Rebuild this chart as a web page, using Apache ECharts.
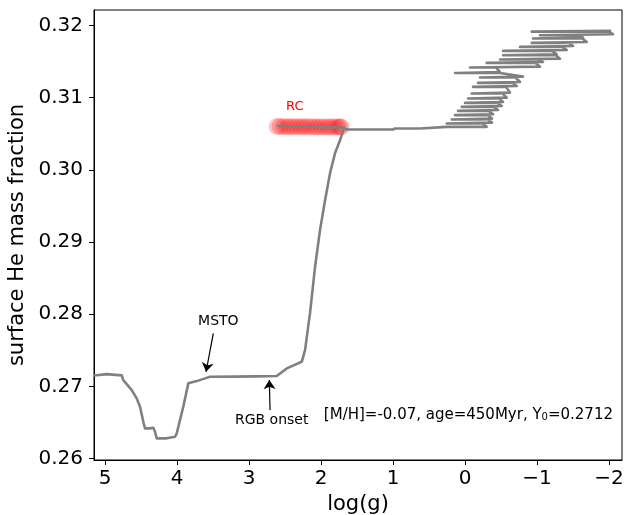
<!DOCTYPE html>
<html>
<head>
<meta charset="utf-8">
<script src="https://cdn.jsdelivr.net/npm/echarts@6/dist/echarts.min.js"></script>
<style>
html,body{margin:0;padding:0;background:#fff;}
#chart{width:624px;height:515px;}
</style>
</head>
<body>
<div id="chart"></div>
<script>
// ---- data ----
var xTicks = [5, 4, 3, 2, 1, 0, -1, -2];
var yTicks = [0.26, 0.27, 0.28, 0.29, 0.30, 0.31, 0.32];

// evolutionary track: log(g) and surface He mass fraction
var trackLogg = [
  5.15, 5.139, 4.976, 4.768, 4.746, 4.629, 4.560, 4.514, 4.468, 4.444, 4.375, 4.329, 4.306, 4.282,
  4.143, 4.028, 4.004, 3.913, 3.843, 3.726, 3.611, 3.542, 3.2, 2.9, 2.615, 2.476, 2.268, 2.222,
  2.153, 2.083, 2.014, 1.944, 1.875, 1.806, 1.736, 1.690, 1.681,
  2.597, 1.694, 1.643, 1.000, 0.972, 0.625, 0.254,
  -0.301,
  -0.24, 0.254, 0.254, -0.375,
  -0.315, 0.185, 0.185, -0.375,
  -0.315, 0.139, 0.139, -0.389,
  -0.33, 0.097, 0.097, -0.458,
  -0.40, 0.046, 0.046, -0.510,
  -0.45, 0.000, 0.000, -0.528,
  -0.47, -0.042, -0.042, -0.579,
  -0.52, -0.093, -0.093, -0.625,
  -0.57, -0.111, -0.111, -0.718,
  -0.66, -0.181, -0.181, -0.764,
  -0.70, -0.208, -0.208, -0.806,
  -0.486, 0.139, 0.139, -0.486,
  -0.43, -0.069, -0.069, -1.042,
  -0.98, -0.301, -0.301, -1.083,
  -1.02, -0.486, -0.486, -1.319,
  -1.26, -0.528, -0.528, -1.274,
  -1.21, -0.528, -0.528, -1.413,
  -1.35, -0.764, -0.764, -1.500,
  -1.44, -0.926, -0.926, -1.690,
  -1.63, -0.944, -0.944, -1.639,
  -1.58, -1.042, -1.042, -2.056,
  -2.00, -0.926, -0.926, -2.014
];
var trackHe = [
  0.27150, 0.27157, 0.27170, 0.27152, 0.27087, 0.26949, 0.26834, 0.26717, 0.26510, 0.26418, 0.26418, 0.26427, 0.26371, 0.26280,
  0.26280, 0.26302, 0.26349, 0.26717, 0.27042, 0.27073, 0.27111, 0.27133, 0.27135, 0.27138, 0.27143, 0.27249, 0.27341, 0.27503,
  0.28015, 0.28657, 0.29165, 0.29580, 0.29954, 0.30231, 0.30411, 0.30550, 0.30587,
  0.30608, 0.30584, 0.30560, 0.30560, 0.30573, 0.30573, 0.30596,
  0.30596,
  0.30643, 0.30643, 0.30655, 0.30655,
  0.30698, 0.30698, 0.30710, 0.30710,
  0.30758, 0.30758, 0.30770, 0.30770,
  0.30817, 0.30817, 0.30829, 0.30829,
  0.30873, 0.30873, 0.30885, 0.30885,
  0.30928, 0.30928, 0.30940, 0.30940,
  0.30989, 0.30989, 0.31001, 0.31001,
  0.31058, 0.31058, 0.31070, 0.31070,
  0.31150, 0.31150, 0.31162, 0.31162,
  0.31205, 0.31205, 0.31217, 0.31217,
  0.31280, 0.31280, 0.31292, 0.31292,
  0.31343, 0.31343, 0.31355, 0.31355,
  0.31418, 0.31418, 0.31430, 0.31430,
  0.31482, 0.31482, 0.31494, 0.31494,
  0.31529, 0.31529, 0.31541, 0.31541,
  0.31589, 0.31589, 0.31601, 0.31601,
  0.31648, 0.31648, 0.31660, 0.31660,
  0.31704, 0.31704, 0.31716, 0.31716,
  0.31759, 0.31759, 0.31771, 0.31771,
  0.31820, 0.31820, 0.31832, 0.31832,
  0.31866, 0.31866, 0.31878, 0.31878,
  0.31915, 0.31915, 0.31927, 0.31927
];

// red clump models
var rcLogg = [2.61, 2.57, 2.52, 2.47, 2.43, 2.38, 2.33, 2.28, 2.24, 2.19, 2.14, 2.09, 2.05, 2.00, 1.95, 1.90, 1.86, 1.81, 1.77, 1.74, 1.72];
var rcHe   = [0.30600, 0.30600, 0.30598, 0.30598, 0.30597, 0.30597, 0.30597, 0.30596, 0.30596, 0.30596, 0.30596, 0.30595, 0.30595, 0.30595, 0.30595, 0.30594, 0.30594, 0.30594, 0.30594, 0.30594, 0.30594];

// annotations (data coordinates)
var annotTexts = ['MSTO', 'RGB onset', 'RC'];
var annotLogg  = [3.426, 2.685, 2.365];
var annotHe    = [0.27895, 0.26533, 0.30882];
var arrowFromLogg = [3.496, 2.708];
var arrowFromHe   = [0.27734, 0.26672];
var arrowToLogg   = [3.597, 2.718];
var arrowToHe     = [0.27202, 0.27087];
var infoText = ['[M/H]=-0.07, age=450Myr, Y', '0', '=0.2712'];

// ---- build options ----
var trackData = trackLogg.map(function (x, i) { return [x, trackHe[i]]; });
var rcData = rcLogg.map(function (x, i) { return [x, rcHe[i]]; });
var arrowData = arrowFromLogg.map(function (x, i) {
  return [{ coord: [x, arrowFromHe[i]] }, { coord: [arrowToLogg[i], arrowToHe[i]] }];
});
var labelData = annotTexts.map(function (t, i) {
  return {
    name: t, coord: [annotLogg[i], annotHe[i]],
    label: { color: t === 'RC' ? '#ff0000' : '#000', fontSize: t === 'RC' ? 13 : 14 }
  };
});

var FONT = 'DejaVu Sans';
var chart = echarts.init(document.getElementById('chart'), null, { renderer: 'canvas' });
chart.setOption({
  animation: false,
  backgroundColor: '#fff',
  textStyle: { fontFamily: FONT },
  grid: { left: 94, right: 2, top: 10, bottom: 55, show: true, borderColor: '#000', borderWidth: 1, containLabel: false, outerBoundsMode: 'none' },
  xAxis: {
    type: 'value', min: -2.18, max: 5.153, inverse: true,
    name: 'log(g)', nameLocation: 'middle', nameGap: 31,
    nameTextStyle: { fontFamily: FONT, fontSize: 21, color: '#000' },
    axisLine: { show: true, onZero: false, lineStyle: { color: '#000', width: 1 } },
    axisTick: { show: true, length: 5, lineStyle: { color: '#000', width: 1 }, customValues: xTicks },
    axisLabel: {
      show: true, customValues: xTicks, fontFamily: FONT, fontSize: 20, color: '#000', margin: 9,
      formatter: function (v) { return v < 0 ? '\u2212' + Math.abs(v) : String(v); }
    },
    splitLine: { show: false }
  },
  yAxis: {
    type: 'value', min: 0.2598, max: 0.32215,
    name: 'surface He mass fraction', nameLocation: 'middle', nameGap: 61,
    nameTextStyle: { fontFamily: FONT, fontSize: 21, color: '#000' },
    axisLine: { show: true, onZero: false, lineStyle: { color: '#000', width: 1 } },
    axisTick: { show: true, length: 5, lineStyle: { color: '#000', width: 1 }, customValues: yTicks },
    axisLabel: {
      show: true, customValues: yTicks, fontFamily: FONT, fontSize: 20, color: '#000', margin: 11,
      formatter: function (v) { return v.toFixed(2); }
    },
    splitLine: { show: false }
  },
  series: [
    {
      type: 'scatter', name: 'RC', data: rcData, symbol: 'circle', symbolSize: 17,
      itemStyle: { color: 'rgba(255,0,0,0.28)' }, silent: true, z: 1
    },
    {
      type: 'line', name: 'track', data: trackData, showSymbol: false, symbol: 'none',
      lineStyle: { color: '#808080', width: 2.6, cap: 'round', join: 'round' }, clip: true, silent: true, z: 3,
      markLine: {
        silent: true, symbol: ['none', 'arrow'], symbolSize: 9, precision: 5,
        label: { show: false },
        lineStyle: { color: '#000', width: 1.2, type: 'solid' },
        itemStyle: { color: '#000' },
        emphasis: { disabled: true },
        data: arrowData
      },
      markPoint: {
        silent: true, symbol: 'circle', symbolSize: 1, itemStyle: { color: 'rgba(0,0,0,0)' },
        label: { show: true, position: 'inside', formatter: '{b}', fontFamily: FONT },
        data: labelData
      }
    }
  ],
  graphic: [{
    type: 'text', x: 613, y: 415, silent: true,
    style: {
      text: infoText[0] + '{sub|' + infoText[1] + '}' + infoText[2],
      fill: '#000', fontFamily: FONT, fontSize: 15,
      align: 'right', verticalAlign: 'middle',
      rich: { sub: { fontSize: 10, fontFamily: FONT, verticalAlign: 'bottom', lineHeight: 10, fill: '#000', padding: [6, 0, 0, 0] } }
    }
  }]
});
</script>
</body>
</html>
